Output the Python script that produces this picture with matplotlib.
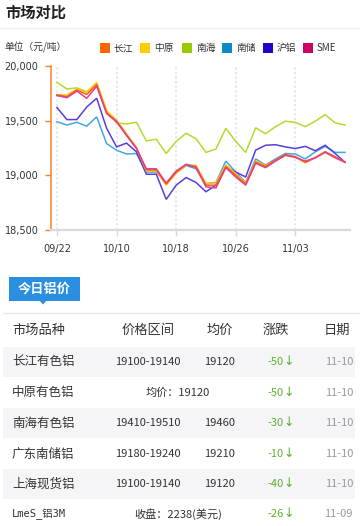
import matplotlib
matplotlib.use("Agg")
import matplotlib.pyplot as plt
from matplotlib.patches import Rectangle, Polygon

plt.rcParams['font.family'] = ['Noto Sans CJK SC', 'DejaVu Sans']

# ---------------- data ----------------
dates = ["09/22", "09/23", "09/26", "09/27", "09/28", "09/29",
         "10/10", "10/11", "10/12", "10/13", "10/14", "10/17",
         "10/18", "10/19", "10/20", "10/21", "10/24", "10/25",
         "10/26", "10/27", "10/28", "10/31", "11/01", "11/02",
         "11/03", "11/04", "11/07", "11/08", "11/09", "11/10"]
tick_labels = ["09/22", "10/10", "10/18", "10/26", "11/03"]

changjiang = [19735, 19720, 19780, 19740, 19830, 19570, 19495, 19370, 19250, 19050,
              19050, 18920, 19030, 19100, 19080, 18910, 18910, 19080, 19000, 18920,
              19120, 19080, 19140, 19190, 19170, 19120, 19160, 19210, 19160, 19120]
zhongyuan = [19735, 19735, 19790, 19760, 19850, 19590, 19505, 19380, 19255, 19040,
             19040, 18910, 19020, 19095, 19090, 18925, 18930, 19095, 19015, 18930,
             19130, 19090, 19135, 19180, 19165, 19115, 19165, 19215, 19165, 19120]
nanhai = [19850, 19790, 19800, 19765, 19840, 19590, 19480, 19470, 19485, 19315,
          19330, 19200, 19310, 19385, 19335, 19210, 19240, 19430, 19310, 19210,
          19435, 19380, 19445, 19495, 19485, 19445, 19495, 19555, 19480, 19460]
nanchu = [19490, 19460, 19485, 19450, 19535, 19290, 19230, 19195, 19200, 19030,
          19030, 18925, 19020, 19090, 19060, 18925, 18935, 19130, 19030, 18935,
          19150, 19095, 19150, 19200, 19195, 19150, 19215, 19265, 19210, 19210]
hulv = [19620, 19510, 19510, 19625, 19705, 19430, 19260, 19295, 19215, 19010,
        19010, 18780, 18910, 18980, 18935, 18850, 18910, 19080, 19030, 18985,
        19230, 19275, 19280, 19260, 19245, 19265, 19225, 19275, 19200, 19120]
sme = [19730, 19710, 19770, 19705, 19815, 19565, 19490, 19365, 19245, 19060,
       19060, 18930, 19040, 19100, 19070, 18895, 18885, 19070, 18985, 18910,
       19110, 19070, 19130, 19185, 19165, 19130, 19160, 19215, 19170, 19120]

series_names = ["长江", "中原", "南海", "南储", "沪铝", "SME"]
legend_colors = ["#FF6600", "#FFCC00", "#99CC00", "#1188CC", "#2200CC", "#CC0066"]
line_colors = ["#FF5A1E", "#FFC800", "#B0DC30", "#40A8E0", "#5A3CE0", "#E0408C"]

y_ticks = [18500, 19000, 19500, 20000]

table_header = ["市场品种", "价格区间", "均价", "涨跌", "日期"]
row_names = ["长江有色铝", "中原有色铝", "南海有色铝", "广东南储铝", "上海现货铝", "LmeS_铝3M"]
row_ranges = ["19100-19140", None, "19410-19510", "19180-19240", "19100-19140", None]
row_avgs = ["19120", None, "19460", "19210", "19120", None]
row_merged = [None, "均价：19120", None, None, None, "收盘：2238(美元)"]
row_changes = ["-50", "-50", "-30", "-10", "-40", "-26"]
row_dates = ["11-10", "11-10", "11-10", "11-10", "11-10", "11-09"]

# ---------------- figure ----------------
W, H = 360, 526
fig = plt.figure(figsize=(W / 100, H / 100), dpi=100)
fig.patch.set_facecolor("white")

ov = fig.add_axes([0, 0, 1, 1])
ov.set_xlim(0, W)
ov.set_ylim(H, 0)
ov.axis("off")

# title
ov.text(5, 13, "市场对比", fontsize=11, fontweight="bold", color="#222222",
        va="center", ha="left")
ov.plot([0, W], [28, 28], color="#eeeeee", lw=1)

# unit + legend
ov.text(4, 47, "单位（元/吨）", fontsize=7, color="#333333", va="center", ha="left")
leg_x = [100, 140, 182, 222, 263, 303]
for x, name, c in zip(leg_x, series_names, legend_colors):
    ov.add_patch(Rectangle((x, 43), 10, 10, color=c, lw=0))
    ov.text(x + 14, 48, name, fontsize=7, color="#333333", va="center", ha="left")

# ---------------- chart ----------------
cx = fig.add_axes([51 / W, 1 - 230 / H, (350 - 51) / W, (230 - 66) / H])
cx.patch.set_alpha(0)
xs = list(range(len(dates)))
all_series = [changjiang, zhongyuan, nanhai, nanchu, hulv, sme]
order = [2, 3, 4, 1, 0, 5]
for i in order:
    cx.plot(xs, all_series[i], color=line_colors[i], lw=1.1, zorder=3,
            solid_joinstyle="miter")
cx.set_ylim(18500, 20000)
cx.set_xlim(-0.6, 29.5)
tick_pos = [dates.index(t) for t in tick_labels]
cx.set_xticks(tick_pos)
cx.set_xticklabels(tick_labels)
cx.set_yticks(y_ticks)
cx.set_yticklabels([f"{v:,}" for v in y_ticks])
for t in tick_pos:
    cx.axvline(t, color="#e2e2e2", lw=1.1, ls=(0, (1.5, 1.5)), zorder=1)
for s in ["top", "right"]:
    cx.spines[s].set_visible(False)
cx.spines["left"].set_color("#FF7F2A")
cx.spines["left"].set_linewidth(1.1)
cx.spines["bottom"].set_color("#d9d9d9")
cx.spines["bottom"].set_linewidth(1.6)
cx.tick_params(axis="y", colors="#FF7F2A", length=4, width=1, pad=5,
               labelsize=7, labelcolor="#333333")
cx.tick_params(axis="x", colors="#d9d9d9", length=4, width=1, pad=6,
               labelsize=7, labelcolor="#333333")
for lab in cx.get_xticklabels() + cx.get_yticklabels():
    lab.set_family("DejaVu Sans")

# ---------------- table ----------------
ov.add_patch(Rectangle((9, 277), 71, 24, color="#2A8FE0", lw=0))
ov.add_patch(Polygon([[39, 300], [47, 300], [43, 304.5]], closed=True,
                     color="#2A8FE0", lw=0))
ov.text(44.5, 289, "今日铝价", fontsize=9.5, fontweight="bold", color="white",
        ha="center", va="center")
ov.plot([3, W], [313, 313], color="#e6e6e6", lw=1)

hy = 330
hx = [12, 148, 220, 276, 337]
has = ["left", "center", "center", "center", "center"]
for x, ha, txt in zip(hx, has, table_header):
    ov.text(x, hy, txt, fontsize=9.5, color="#333333", ha=ha,
            va="center", fontweight="medium")

row_y = [362, 392.5, 423, 454, 484, 514]
for k, y in enumerate(row_y):
    if k % 2 == 0:
        ov.add_patch(Rectangle((3, y - 15), 352, 30, color="#f5f5f7", lw=0, zorder=0))
    if row_names[k].startswith("LmeS"):
        ov.text(12, y, row_names[k], fontsize=7.5, color="#333333", ha="left",
                va="center", family=["DejaVu Sans Mono", "Noto Sans CJK SC"])
    else:
        ov.text(12, y, row_names[k], fontsize=9, color="#333333", ha="left",
                va="center")
    if row_merged[k] is not None:
        ov.text(178, y, row_merged[k], fontsize=8, color="#333333", ha="center",
                va="center")
    else:
        ov.text(148, y, row_ranges[k], fontsize=8, color="#333333", ha="center",
                va="center")
        ov.text(220, y, row_avgs[k], fontsize=8, color="#333333", ha="center",
                va="center")
    ov.text(284, y, row_changes[k], fontsize=8, color="#5DB12F", ha="right",
            va="center")
    ov.text(288.5, y - 0.5, "↓", fontsize=9, color="#5DB12F", ha="center",
            va="center", family=["DejaVu Sans"])
    ov.text(353, y, row_dates[k], fontsize=8, color="#999999", ha="right",
            va="center")

fig.savefig("out.png", dpi=100)
